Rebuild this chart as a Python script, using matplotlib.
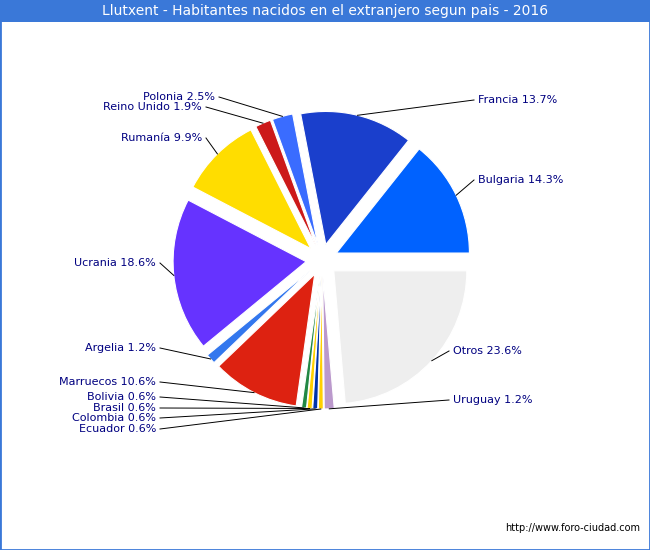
import matplotlib
matplotlib.use("Agg")
import matplotlib.pyplot as plt
import numpy as np

labels = ["Bulgaria","Francia","Polonia","Reino Unido","Rumanía","Ucrania","Argelia",
          "Marruecos","Bolivia","Brasil","Colombia","Ecuador","Uruguay","Otros"]
values = [14.3,13.7,2.5,1.9,9.9,18.6,1.2,10.6,0.6,0.6,0.6,0.6,1.2,23.6]
colors = ["#0062ff","#1a3fcc","#3a6cff","#cc1a1a","#ffdd00","#6633ff","#3377ee",
          "#dd2211","#228844","#ffd000","#0033aa","#ffd000","#bb99cc","#eeeeee"]
label_pos = {"Bulgaria":(478,180,"left"),"Francia":(478,100,"left"),
             "Polonia":(215,97,"right"),"Reino Unido":(202,107,"right"),
             "Rumanía":(202,138,"right"),"Ucrania":(156,263,"right"),
             "Argelia":(156,348,"right"),"Marruecos":(156,382,"right"),
             "Bolivia":(156,397,"right"),"Brasil":(156,408,"right"),
             "Colombia":(156,418,"right"),"Ecuador":(156,429,"right"),
             "Uruguay":(453,400,"left"),"Otros":(453,351,"left")}

W,H = 650,550
fig = plt.figure(figsize=(6.5,5.5),dpi=100)
ax = fig.add_axes([0,0,1,1])
fig.patches.append(plt.Rectangle((0,0),1,1,transform=fig.transFigure,fill=False,ec="#3a78d8",lw=2))
fig.patches.append(plt.Rectangle((0,1-22/550),1,22/550,transform=fig.transFigure,fc="#3a78d8",ec="none"))
fig.text(0.5,1-11/550,"Llutxent - Habitantes nacidos en el extranjero segun pais - 2016",
         ha="center",va="center",color="white",fontsize=10,fontfamily="DejaVu Sans")
cx,cy,R = 322,290,133
wedges,_ = ax.pie(values,colors=colors,startangle=0,counterclock=True,center=(cx,cy),
                  radius=R,explode=[16]*len(values),frame=True,
                  wedgeprops=dict(edgecolor="white",linewidth=0.8))
ax.set_xlim(0,W); ax.set_ylim(0,H); ax.set_aspect("equal"); ax.axis("off")
for lab,v,w in zip(labels,values,wedges):
    ang = np.deg2rad((w.theta1+w.theta2)/2)
    wc = w.center
    px = wc[0]+R*np.cos(ang); py = wc[1]+R*np.sin(ang)
    tx,ty,ha = label_pos[lab]; ty = H-ty
    ex = tx-4 if ha=="left" else tx+4
    ax.plot([px,ex],[py,ty],color="black",lw=0.7)
    ax.text(tx,ty,f"{lab} {v}%",ha=ha,va="center",fontsize=8,color="#000080")
fig.text(1-10/650,22/550,"http://www.foro-ciudad.com",ha="right",va="center",fontsize=7)
fig.savefig("out.png",dpi=100,facecolor="white")
